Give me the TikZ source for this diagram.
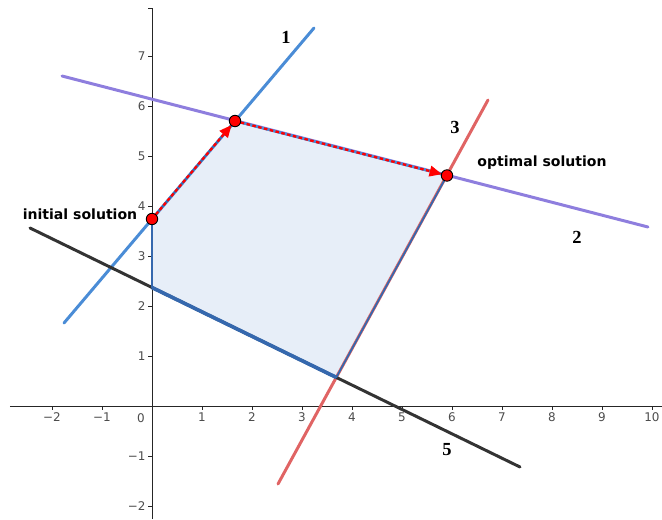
\documentclass[tikz,border=0pt]{standalone}
\usepackage{fontspec}
\setmainfont{DejaVu Sans}
\newfontfamily\numfont{Liberation Serif}
\usepackage{tikz}
\usetikzlibrary{arrows.meta}

\definecolor{lineone}{HTML}{4A8CD6}
\definecolor{linetwo}{HTML}{8E7EDE}
\definecolor{linethree}{HTML}{E06464}
\definecolor{linefive}{HTML}{333333}
\definecolor{regionfill}{HTML}{E7EEF8}
\definecolor{edgeblue}{HTML}{3568AE}

\begin{document}
\begin{tikzpicture}[
    constraint/.style={line width=1.7pt, line cap=round},
    axis/.style={draw=black!85, line width=0.5pt},
    tick/.style={font=\fontsize{6.8}{7}\selectfont, text=black!70, inner sep=1.5pt},
    bound/.style={draw=edgeblue, line width=1.0pt, line join=round},
    move/.style={draw=red, line width=1.3pt, dash pattern=on 2pt off 1.4pt, -{Triangle[length=7pt,width=6pt]}, shorten >=3pt},
    vertex/.style={circle, fill=red, draw=black, line width=0.5pt, minimum size=6.5pt, inner sep=0pt},
    number/.style={font=\numfont\bfseries\fontsize{10.5}{12}\selectfont},
    tag/.style={font=\bfseries\fontsize{8}{10}\selectfont}
]
    \useasboundingbox (-3.04,-2.26) rectangle (10.2,8.12);

    % corners of the feasible region
    \coordinate (A) at (0,3.74);
    \coordinate (B) at (1.66,5.70);
    \coordinate (C) at (5.90,4.61);
    \coordinate (D) at (3.686,0.572);
    \coordinate (E) at (0,2.37);

    \fill[regionfill] (A) -- (B) -- (C) -- (D) -- (E) -- cycle;

    % axes
    \coordinate (xl) at (-2.84,0);
    \coordinate (xr) at (10.2,0);
    \coordinate (yb) at (0,-2.26);
    \coordinate (yt) at (0,7.96);
    \draw[axis] (xl) -- (xr);
    \draw[axis] (yb) -- (yt);
    \foreach \x in {-2,-1,1,2,3,4,5,6,7,8,9,10}
        \draw[axis] (\x,0) -- (\x,-0.07) node[below, tick] (xt\x) {\ifnum\x<0 −\number-\x\else\x\fi};
    \foreach \y in {-2,-1,1,2,3,4,5,6,7}
        \draw[axis] (0,\y) -- (-0.07,\y) node[left, tick] (yt\y) {\ifnum\y<0 −\number-\y\else\y\fi};
    \draw[axis] (0,7.96) -- (-0.07,7.96);
    \node[tick] (origin) at (-0.22,-0.25) {0};

    % constraint lines
    \coordinate (p1a) at (-1.76,1.66);
    \coordinate (p1b) at (3.24,7.56);
    \coordinate (p2a) at (-1.80,6.60);
    \coordinate (p2b) at (9.92,3.58);
    \coordinate (p3a) at (2.52,-1.56);
    \coordinate (p3b) at (6.72,6.12);
    \coordinate (p5a) at (-2.44,3.56);
    \coordinate (p5b) at (7.36,-1.22);
    \draw[constraint, lineone] (p1a) -- (p1b);
    \draw[constraint, linetwo] (p2a) -- (p2b);
    \draw[constraint, linethree] (p3a) -- (p3b);
    \draw[constraint, linefive] (p5a) -- (p5b);

    \draw[bound] (A) -- (B) -- (C) -- (D) -- (E) -- cycle;
    \draw[bound, line width=2.1pt] (D) -- (E);

    % simplex path
    \draw[lineone, line width=1.5pt] (B) -- (C);
    \draw[move] (A) -- (B);
    \draw[move] (B) -- (C);

    \node[vertex] (vA) at (A) {};
    \node[vertex] (vB) at (B) {};
    \node[vertex] (vC) at (C) {};

    % labels
    \node[number] (n1) at (2.68,7.38) {1};
    \node[number] (n2) at (8.50,3.38) {2};
    \node[number] (n3) at (6.06,5.58) {3};
    \node[number] (n5) at (5.90,-0.88) {5};
    \node[tag] (init) at (-1.44,3.84) {initial solution};
    \node[tag] (opt) at (7.80,4.86) {optimal solution};
\end{tikzpicture}
\end{document}
